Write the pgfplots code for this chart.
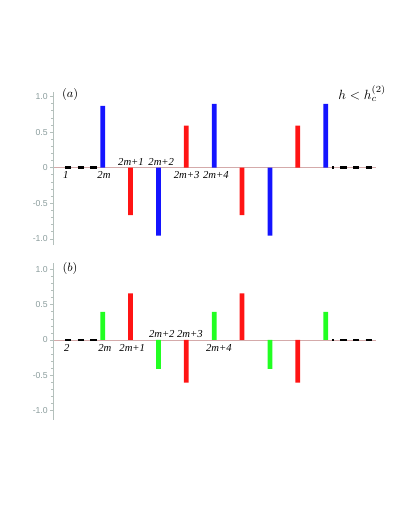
\documentclass[border=0pt]{standalone}
\usepackage{fontspec}
\setmainfont{Liberation Serif}
\setsansfont{Liberation Sans}
\usepackage{pgfplots}
\pgfplotsset{compat=1.18}
\definecolor{axgray}{HTML}{B4C0BC}
\definecolor{tickgray}{HTML}{8A9C9C}
\definecolor{zeropink}{HTML}{D4AAAA}
\definecolor{barblue}{HTML}{1414FF}
\definecolor{barred}{HTML}{FF1414}
\definecolor{bargreen}{HTML}{22FF22}

\tikzset{lab/.style={font=\itshape\fontsize{8}{9}\selectfont, inner sep=0pt}}

\pgfplotsset{
  chainstyle/.style={
    anchor=origin,
    x=20.906pt,
    xmin=-1.772, xmax=9.8,
    axis x line=middle,
    axis y line=left,
    x axis line style={draw=zeropink, line width=0.6pt, -},
    y axis line style={draw=axgray, line width=0.6pt, -},
    xtick=\empty,
    ytick={-1,-0.5,0,0.5,1},
    yticklabels={-1.0,-0.5,0,0.5,1.0},
    minor y tick num=4,
    tick align=outside,
    major tick length=2.5pt,
    minor tick length=1.4pt,
    every tick/.style={draw=axgray, line width=0.5pt},
    yticklabel style={font=\sffamily\fontsize{6.5}{7}\selectfont, text=tickgray, inner sep=1.5pt},
    clip=false,
  },
}

\begin{document}
\begin{tikzpicture}[x=0.75pt,y=0.75pt]
\path[use as bounding box] (0,0) rectangle (409,529);

% panel (a)
\begin{axis}[chainstyle, at={(77.025pt,270.975pt)}, y=53.4pt, ymin=-1.086, ymax=1.063]
\addplot[black, line width=2.2pt, dash pattern=on 4.6pt off 4.9pt] coordinates {(-1.35,0) (-0.17,0)};
\addplot[black, line width=2.2pt, dash pattern=on 4.6pt off 4.9pt, dash phase=3.3pt] coordinates {(8.23,0) (9.77,0)};
\addplot[ybar, bar width=3.5pt, fill=barblue, draw=none] coordinates {(0,0.87) (2,-0.955) (4,0.895) (6,-0.955) (8,0.895)};
\addplot[ybar, bar width=3.5pt, fill=barred, draw=none] coordinates {(1,-0.665) (3,0.59) (5,-0.665) (7,0.59)};
\node[lab] at (axis cs:-1.327,-0.105) {1};
\node[lab] at (axis cs:0.047,-0.105) {2m};
\node[lab] at (axis cs:1.015,0.076) {2m+1};
\node[lab] at (axis cs:2.10,0.076) {2m+2};
\node[lab] at (axis cs:3.01,-0.105) {2m+3};
\node[lab] at (axis cs:4.06,-0.105) {2m+4};
\node[font=\fontsize{9}{10}\selectfont, inner sep=0pt] at (axis cs:-1.17,1.035) {$(a)$};
\node[font=\fontsize{10}{11}\selectfont, inner sep=0pt] at (axis cs:9.31,1.045) {$h<h_c^{(2)}$};
\end{axis}

% panel (b)
\begin{axis}[chainstyle, at={(77.025pt,141.75pt)}, y=52.9pt, ymin=-1.13, ymax=1.09]
\addplot[black, line width=2.2pt, dash pattern=on 4.6pt off 4.9pt] coordinates {(-1.35,0) (-0.17,0)};
\addplot[black, line width=2.2pt, dash pattern=on 4.6pt off 4.9pt, dash phase=3.3pt] coordinates {(8.23,0) (9.77,0)};
\addplot[ybar, bar width=3.5pt, fill=bargreen, draw=none] coordinates {(0,0.40) (2,-0.41) (4,0.40) (6,-0.41) (8,0.40)};
\addplot[ybar, bar width=3.5pt, fill=barred, draw=none] coordinates {(1,0.66) (3,-0.605) (5,0.66) (7,-0.605)};
\node[lab] at (axis cs:-1.29,-0.118) {2};
\node[lab] at (axis cs:0.08,-0.118) {2m};
\node[lab] at (axis cs:1.06,-0.118) {2m+1};
\node[lab] at (axis cs:2.12,0.081) {2m+2};
\node[lab] at (axis cs:3.13,0.081) {2m+3};
\node[lab] at (axis cs:4.17,-0.118) {2m+4};
\node[font=\fontsize{9}{10}\selectfont, inner sep=0pt] at (axis cs:-1.17,1.02) {$(b)$};
\end{axis}
\end{tikzpicture}
\end{document}
